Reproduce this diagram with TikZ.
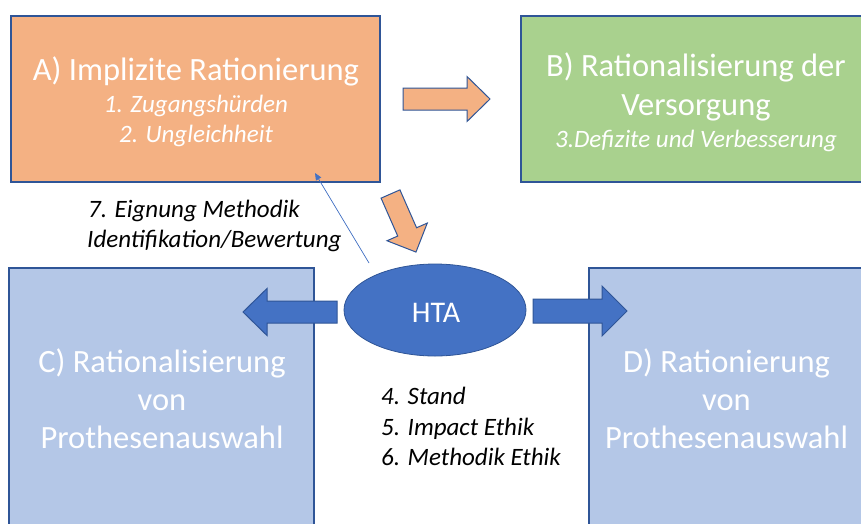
\documentclass[tikz,border=0pt]{standalone}
\usepackage{fontspec}
\setmainfont{Carlito}
\usetikzlibrary{arrows.meta,shapes.geometric}
\definecolor{orangefill}{HTML}{F4B183}
\definecolor{greenfill}{HTML}{A9D18E}
\definecolor{bluefill}{HTML}{B4C7E7}
\definecolor{htablue}{HTML}{4472C4}
\definecolor{edgeblue}{HTML}{2F5597}

% block arrow pointing along +x: length, shaft half width, head half width, head length
\tikzset{
  pics/blockarrow/.style n args={4}{code={
    \draw[pic actions] (0,-#2) -- ({#1-#4},-#2) -- ({#1-#4},-#3) -- (#1,0)
      -- ({#1-#4},#3) -- ({#1-#4},#2) -- (0,#2) -- cycle;
  }}
}

\begin{document}
\begin{tikzpicture}[x=1pt,y=-1pt,
  box/.style={draw=edgeblue,line width=1.1pt,inner sep=0,outer sep=0},
  title/.style={text=white,font=\fontsize{32.5}{38}\selectfont,anchor=base,inner sep=0},
  sub/.style={text=white,font=\fontsize{25}{30}\selectfont\itshape,anchor=base,inner sep=0},
  note/.style={text=black,font=\fontsize{25}{30}\selectfont\itshape,anchor=base west,inner sep=0},
  orangearrow/.style={fill=orangefill,draw=edgeblue,line width=1pt},
  bluearrow/.style={fill=htablue,draw=edgeblue,line width=1pt}]
\useasboundingbox (0,0) rectangle (861,523);
\fill[white] (0,0) rectangle (861,523);

% four boxes
\node[box,fill=orangefill,minimum width=369pt,minimum height=166pt] (A) at (195.5,99) {};
\node[box,fill=greenfill,minimum width=354pt,minimum height=166pt] (B) at (698,99) {};
\node[box,fill=bluefill,minimum width=305pt,minimum height=272pt] (C) at (161.5,404) {};
\node[box,fill=bluefill,minimum width=275pt,minimum height=272pt] (D) at (726.5,404) {};

% central ellipse
\node[ellipse,fill=htablue,draw=edgeblue,line width=0.8pt,minimum width=182pt,minimum height=92pt,inner sep=0] (hta) at (435,310) {};
\node[title,font=\fontsize{30}{36}\selectfont] (htatext) at (436,322) {HTA};

% block arrows
\pic[orangearrow] at (403,99) {blockarrow={87}{11}{22.5}{23}};
\pic[orangearrow,rotate=-66.3] at (390.5,194) {blockarrow={63.4}{10.3}{22}{22}};
\pic[bluearrow,rotate=180] at (337,312) {blockarrow={94}{11}{23.5}{24}};
\pic[bluearrow] at (533,311) {blockarrow={94}{12}{25}{25}};

% thin connector from the note back to box A
\coordinate (m7) at (369,263);
\coordinate (a7) at (315,173);
\draw[htablue,line width=0.7pt,-{Triangle[length=7pt,width=6pt]}] (m7) -- (a7);

% box texts
\node[title] (a1) at (196,80) {A) Implizite Rationierung};
\node[sub] (a2) at (196,112) {1. Zugangshürden};
\node[sub] (a3) at (196,142) {2. Ungleichheit};

\node[title] (b1) at (696,76) {B) Rationalisierung der};
\node[title] (b2) at (696,115) {Versorgung};
\node[sub] (b3) at (696,147) {3.Defizite und Verbesserung};

\node[title] (c1) at (162,372) {C) Rationalisierung};
\node[title] (c2) at (162,410) {von};
\node[title] (c3) at (162,448) {Prothesenauswahl};

\node[title] (d1) at (726.5,372) {D) Rationierung};
\node[title] (d2) at (726.5,410) {von};
\node[title] (d3) at (726.5,448) {Prothesenauswahl};

% notes
\node[note] (n7a) at (88,217) {7. Eignung Methodik};
\node[note] (n7b) at (87,247) {Identifikation/Bewertung};
\node[note] (n4) at (381,404) {4. Stand};
\node[note] (n5) at (381,435) {5. Impact Ethik};
\node[note] (n6) at (381,465) {6. Methodik Ethik};
\end{tikzpicture}
\end{document}
